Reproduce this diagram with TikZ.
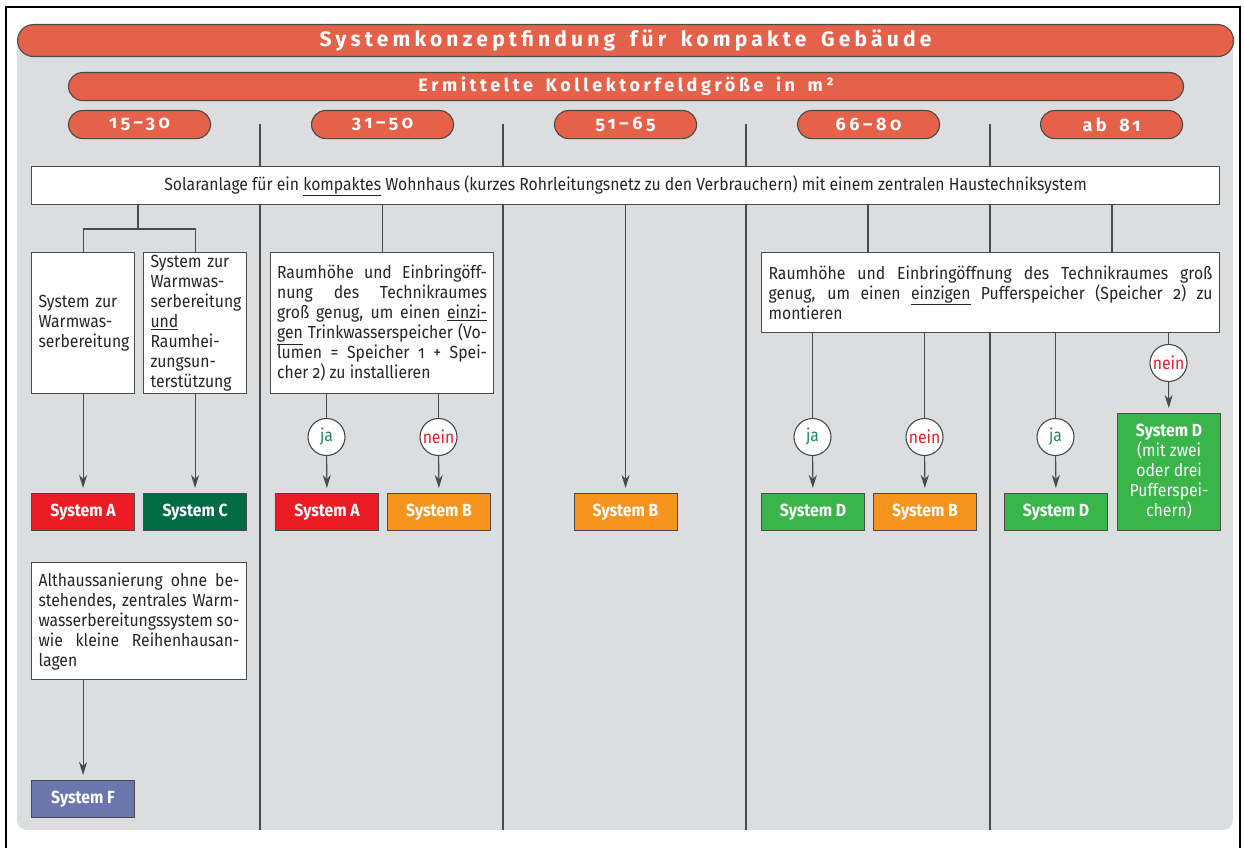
\documentclass[tikz,border=0pt]{standalone}
\usepackage{fontspec}
\setmainfont{Fira Sans}[Numbers=OldStyle,FakeStretch=0.9]
\newfontfamily\spacedfont{Fira Sans}[Numbers=OldStyle,LetterSpace=20,WordSpace=1.6]
\usetikzlibrary{arrows.meta}

\definecolor{pillred}{HTML}{E5614A}
\definecolor{panelgray}{HTML}{DCDDDF}
\definecolor{edgegray}{HTML}{4A4A4A}
\definecolor{sysred}{HTML}{ED1C24}
\definecolor{sysdkgreen}{HTML}{006B45}
\definecolor{sysorange}{HTML}{F7941D}
\definecolor{sysgreen}{HTML}{39B54A}
\definecolor{sysblue}{HTML}{6B76AE}
\definecolor{jagreen}{HTML}{1E8C5A}

\tikzset{
  every node/.style={inner sep=0pt},
  pill/.style={draw=edgegray, fill=pillred, text=white, anchor=north west,
    minimum height=28pt, rounded corners=14pt},
  rangepill/.style={pill, minimum width=142pt,
    font=\spacedfont\fontsize{18}{20}\selectfont\bfseries},
  txtbox/.style={draw=edgegray, fill=white, anchor=north west, text=black!85,
    font=\fontsize{17.5}{20}\selectfont},
  sysbox/.style={draw=edgegray, anchor=north west, minimum width=103pt,
    minimum height=37pt, text=white, font=\fontsize{17.5}{20}\selectfont\bfseries},
  answer/.style={circle, draw=edgegray, fill=white, minimum size=37pt,
    font=\fontsize{17.5}{20}\selectfont},
  link/.style={draw=edgegray},
  arrow/.style={link, -{Stealth[length=13pt,width=8pt,inset=4pt]}, shorten >=5pt},
}

\begin{document}
\begin{tikzpicture}[x=1pt, y=-1pt, line width=1.1pt]
  \useasboundingbox (0,0) rectangle (1244,848);

  % frame and grey panel
  \draw[black, line width=1.2pt] (6,870) -- (6,7) -- (1240,7) -- (1240,870);
  \fill[panelgray] (17,40) -- (17,820) arc[start angle=180, end angle=90, radius=10]
    -- (1223,830) arc[start angle=90, end angle=0, radius=10] -- (1233,40) -- cycle;

  % column dividers
  \foreach \x in {260,503,746,990}
    \draw[link] (\x,124) -- (\x,830);

  % headers
  \node[pill, minimum width=1216pt, minimum height=32pt, rounded corners=16pt,
    font=\spacedfont\fontsize{21}{24}\selectfont\bfseries] (title) at (17,24)
    {Systemkonzeptfindung für kompakte Gebäude};
  \node[pill, minimum width=1115pt, font=\spacedfont\fontsize{18}{20}\selectfont\bfseries]
    (size) at (68,72) {Ermittelte Kollektorfeldgröße in m²};
  \foreach \lbl [count=\i] in {15\textendash30, 31\textendash50, 51\textendash65, 66\textendash80, ab 81}
    \node[rangepill] (r\i) at ({68+243*(\i-1)},110) {\lbl};

  \node[txtbox, minimum width=1188pt, minimum height=38pt] (main) at (31,166)
    {Solaranlage für ein \underline{kompaktes} Wohnhaus (kurzes Rohrleitungsnetz zu den Verbrauchern) mit einem zentralen Haustechniksystem};

  % 15-30
  \node[txtbox, minimum height=141pt, text width=89pt, inner xsep=7pt, align=left]
    (boxW) at (31,252) {System zur\\Warmwas-\\serbereitung};
  \node[txtbox, minimum height=141pt, text width=89pt, inner xsep=7pt, align=left]
    (boxWH) at (143,252) {System zur\\Warmwas-\\serbereitung\\\underline{und}\\Raumhei-\\zungsun-\\terstützung};
  \node[sysbox, fill=sysred] (sysA1) at (31,493) {System A};
  \node[sysbox, fill=sysdkgreen] (sysC1) at (143,493) {System C};
  \node[txtbox, minimum height=117pt, text width=201pt, inner xsep=7pt, align=justify]
    (alt) at (31,562) {Althaussanierung ohne be-\linebreak stehendes, zentrales Warm-\linebreak wasserbereitungssystem so-\linebreak wie kleine Reihenhausan-\linebreak lagen};
  \node[sysbox, fill=sysblue] (sysF1) at (31,780) {System F};

  \coordinate (fork1) at (138,229);
  \draw[link] (main.south -| fork1) -- (fork1);
  \draw[link] (boxW.north) |- (fork1) -| (boxWH.north);
  \draw[arrow] (boxW) -- (sysA1);
  \draw[arrow] (boxWH) -- (sysC1);
  \draw[arrow] (sysF1 |- alt.south) -- (sysF1);

  % 31-50
  \node[txtbox, minimum height=141pt, text width=210pt, inner xsep=6.5pt, align=justify]
    (q2) at (270,252) {Raumhöhe und Einbringöff-\linebreak nung des Technikraumes\linebreak groß genug, um einen \underline{einzi-}\linebreak \underline{gen} Trinkwasserspeicher (Vo-\linebreak lumen = Speicher 1 + Spei-\linebreak cher 2) zu installieren};
  \node[answer, text=jagreen] (ja2) at (326.5,437) {ja};
  \node[answer, text=sysred] (nein2) at (438.5,437) {nein};
  \node[sysbox, fill=sysred] (sysA2) at (275,493) {System A};
  \node[sysbox, fill=sysorange] (sysB2) at (387,493) {System B};

  \draw[link] (q2.north) -- (q2.north |- main.south);
  \draw[link] (ja2) -- (ja2 |- q2.south);
  \draw[link] (nein2) -- (nein2 |- q2.south);
  \draw[arrow] (ja2) -- (sysA2);
  \draw[arrow] (nein2) -- (sysB2);

  % 51-65
  \node[sysbox, fill=sysorange] (sysB3) at (573.5,493) {System B};
  \draw[arrow] (main.south -| sysB3) -- (sysB3);

  % 66-80 and ab 81
  \node[txtbox, minimum height=80pt, text width=444pt, inner xsep=7pt, align=justify]
    (q4) at (761,252) {Raumhöhe und Einbringöffnung des Technikraumes groß\linebreak genug, um einen \underline{einzigen} Pufferspeicher (Speicher 2) zu\linebreak montieren};
  \node[answer, text=jagreen] (ja4) at (812.5,437) {ja};
  \node[answer, text=sysred] (nein4) at (924.5,437) {nein};
  \node[answer, text=jagreen] (ja5) at (1055.5,437) {ja};
  \node[answer, text=sysred] (nein5) at (1168.5,363) {nein};
  \node[sysbox, fill=sysgreen] (sysD4) at (761,493) {System D};
  \node[sysbox, fill=sysorange] (sysB4) at (873,493) {System B};
  \node[sysbox, fill=sysgreen] (sysD5) at (1004,493) {System D};
  \node[sysbox, fill=sysgreen, minimum height=117pt, align=center, font=\fontsize{17.5}{20}\selectfont]
    (sysD6) at (1117,413) {\textbf{System D}\\(mit zwei\\oder drei\\Pufferspei-\\chern)};

  \foreach \x in {868,1112}
    \draw[link] (main.south -| \x,0) -- (q4.north -| \x,0);
  \foreach \n/\s in {ja4/sysD4, nein4/sysB4, ja5/sysD5, nein5/sysD6} {
    \draw[link] (\n) -- (\n |- q4.south);
    \draw[arrow] (\n) -- (\s);
  }
\end{tikzpicture}
\end{document}
